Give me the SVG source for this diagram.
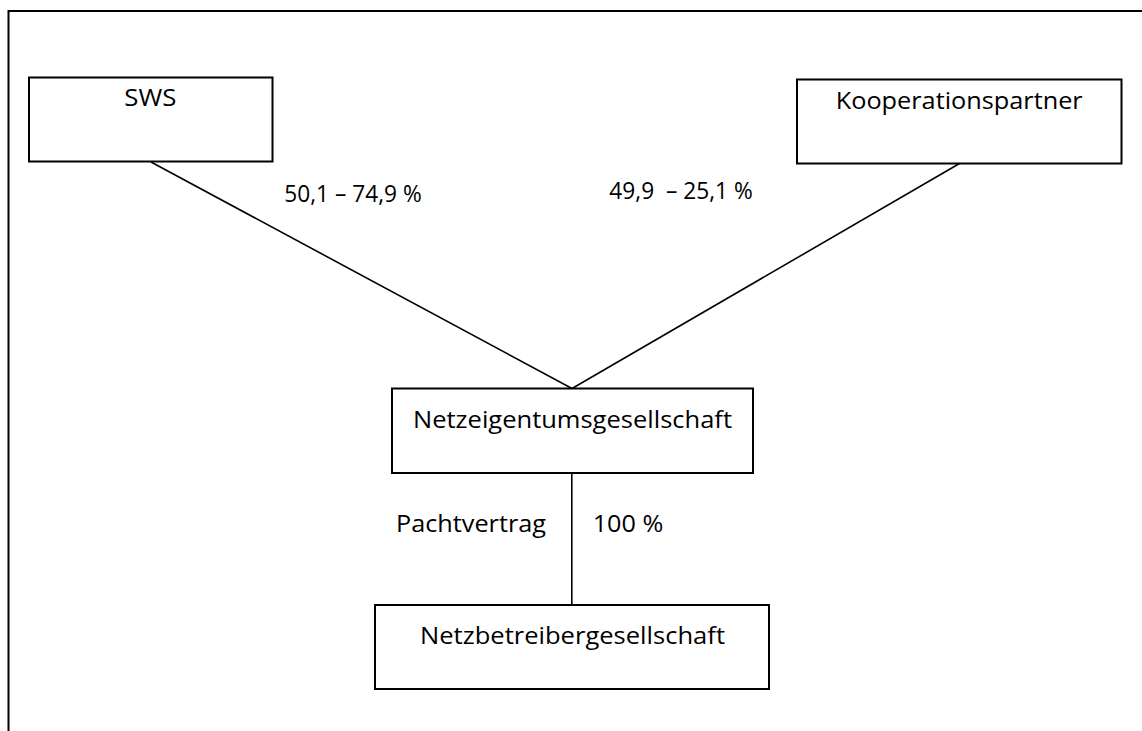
<svg xmlns="http://www.w3.org/2000/svg" width="1142" height="731" viewBox="0 0 1142 731">
<style>
  .box { fill: #ffffff; stroke: #000000; stroke-width: 2; }
  .frame { fill: none; stroke: #000000; stroke-width: 2; }
  .conn { fill: none; stroke: #000000; stroke-width: 1.6; }
  text { font-family: "Open Sans", "Noto Sans", sans-serif; font-size: 23px; fill: #000000; }
</style>
<rect x="0" y="0" width="1142" height="731" fill="#ffffff"/>
<g id="frame">
  <path class="frame" d="M8.5,731 V11 H1142"/>
</g>
<g id="connectors">
  <line class="conn" x1="151" y1="162" x2="572" y2="388.5"/>
  <line class="conn" x1="959.5" y1="163.5" x2="572" y2="388.5"/>
  <line class="conn" x1="571.8" y1="473" x2="571.8" y2="605"/>
</g>
<g id="node-sws">
  <rect class="box" x="29" y="77.5" width="243.5" height="84"/>
  <text x="124.3" y="106" textLength="52" lengthAdjust="spacingAndGlyphs">SWS</text>
</g>
<g id="node-kooperationspartner">
  <rect class="box" x="797" y="79.5" width="324.5" height="84"/>
  <text x="835.7" y="108.5" textLength="247" lengthAdjust="spacingAndGlyphs">Kooperationspartner</text>
</g>
<g id="node-netzeigentum">
  <rect class="box" x="392" y="388.5" width="361" height="84.5"/>
  <text x="413" y="427.7" textLength="319" lengthAdjust="spacingAndGlyphs">Netzeigentumsgesellschaft</text>
</g>
<g id="node-netzbetreiber">
  <rect class="box" x="375" y="605" width="394" height="84"/>
  <text x="420" y="644" textLength="305" lengthAdjust="spacingAndGlyphs">Netzbetreibergesellschaft</text>
</g>
<g id="labels">
  <text x="284.3" y="201.7" textLength="137.4" lengthAdjust="spacingAndGlyphs">50,1 – 74,9 %</text>
  <text x="609.3" y="199.3" textLength="143.4" lengthAdjust="spacingAndGlyphs" xml:space="preserve">49,9  – 25,1 %</text>
  <text x="396" y="531.7" textLength="150" lengthAdjust="spacingAndGlyphs">Pachtvertrag</text>
  <text x="592.7" y="531.7" textLength="70.6" lengthAdjust="spacingAndGlyphs">100 %</text>
</g>
</svg>
